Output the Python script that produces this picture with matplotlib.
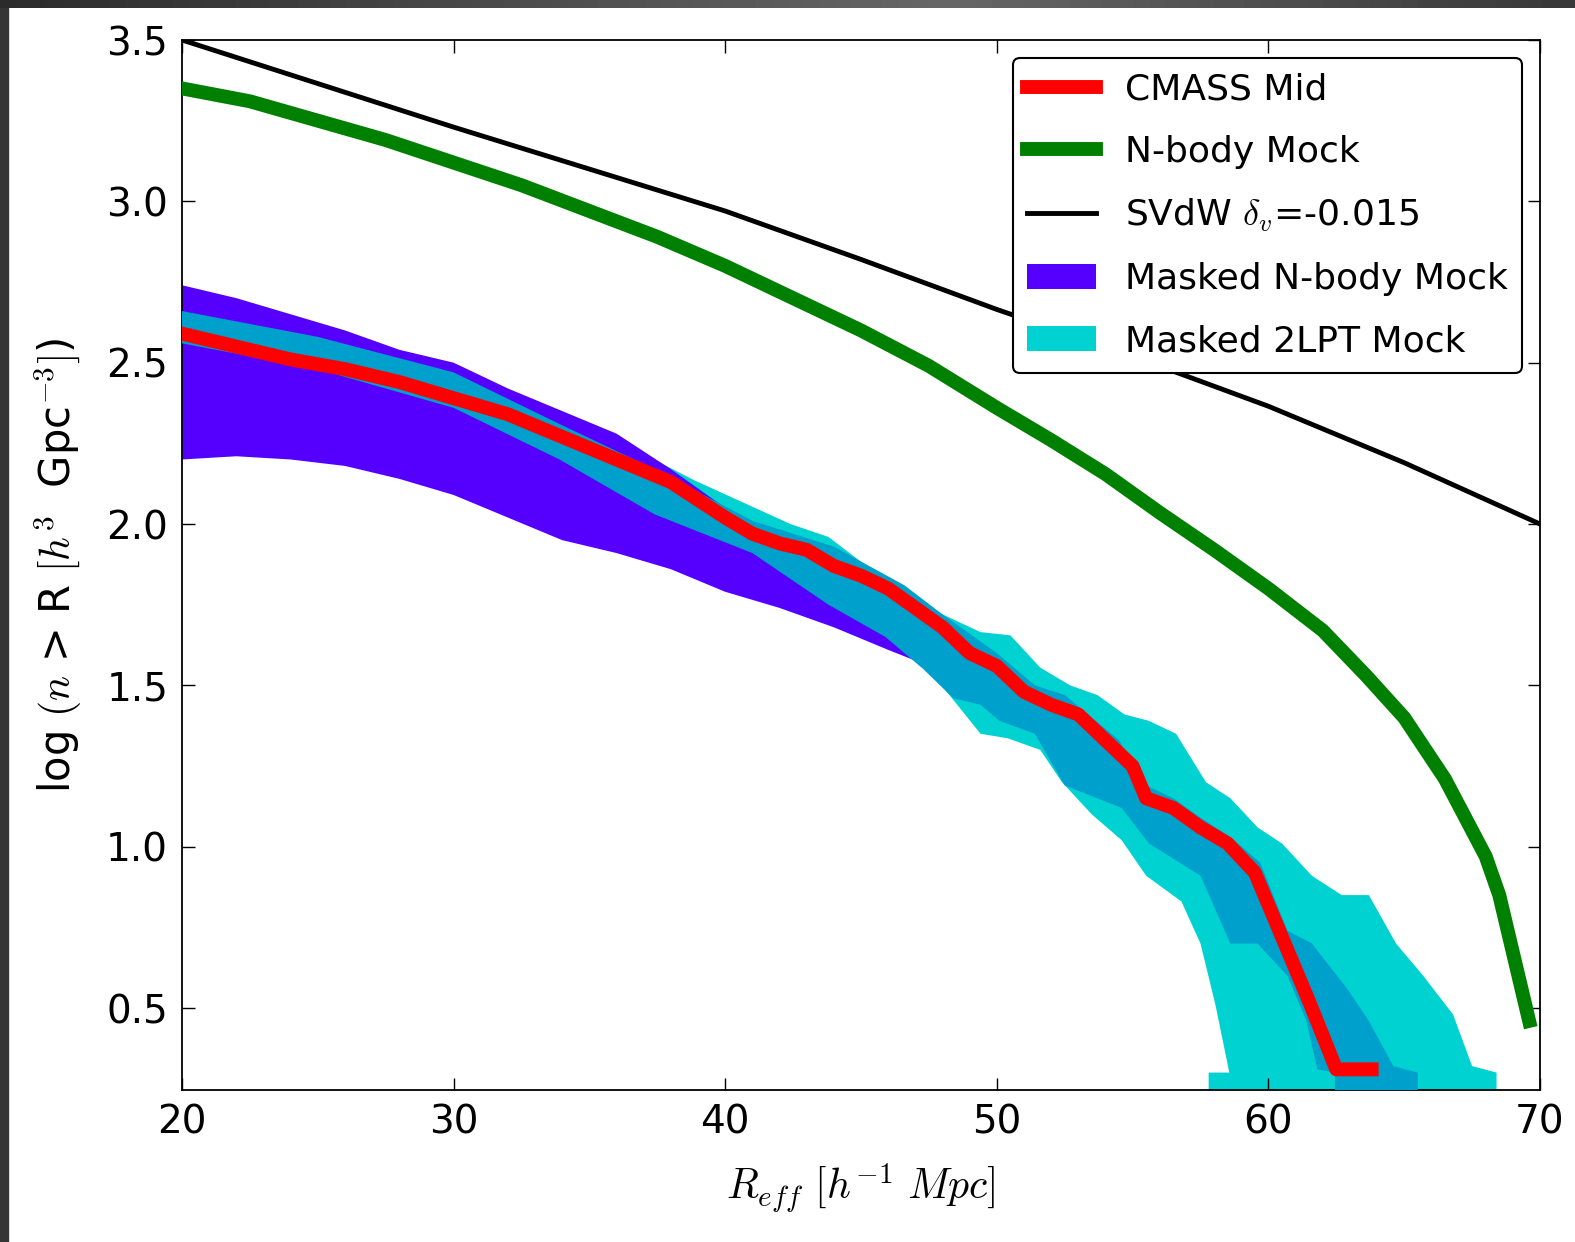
import numpy as np
import matplotlib
matplotlib.use("Agg")
import matplotlib.pyplot as plt
from matplotlib.lines import Line2D
from matplotlib.patches import Patch, Rectangle

plt.rcParams["font.family"] = ["DejaVu Sans"]
plt.rcParams["mathtext.fontset"] = "cm"

# cumulative void abundance curves
r_svdw = [20, 25, 30, 35, 40, 45, 50, 55, 60, 65, 70]
n_svdw = [3.50, 3.365, 3.23, 3.10, 2.97, 2.82, 2.665, 2.52, 2.365, 2.19, 2.00]

r_nbody = [20, 22.5, 25, 27.5, 30, 32.5, 35, 37.5, 40, 42.5, 45, 47.5, 50,
           50.5, 52, 54, 56, 58, 60, 62, 63.6, 65, 66.5, 68, 68.5, 69.6]
n_nbody = [3.35, 3.31, 3.25, 3.19, 3.12, 3.05, 2.97, 2.89, 2.80, 2.70, 2.60,
           2.49, 2.36, 2.335, 2.26, 2.155, 2.035, 1.92, 1.80, 1.67, 1.53,
           1.40, 1.21, 0.97, 0.85, 0.46]

r_cmass = [20, 22, 24, 26, 28, 30, 32, 34, 36, 38, 40, 41, 42, 43, 44, 45, 46,
           47, 48, 49, 50, 51, 52, 53, 54, 55, 55.5, 56.5, 57.5, 58.5, 59.5,
           60.5, 61.5, 62.5, 63.8]
n_cmass = [2.59, 2.55, 2.51, 2.48, 2.44, 2.39, 2.34, 2.27, 2.20, 2.13, 2.02,
           1.97, 1.94, 1.92, 1.87, 1.84, 1.80, 1.74, 1.68, 1.60, 1.56, 1.48,
           1.44, 1.41, 1.33, 1.25, 1.15, 1.12, 1.06, 1.01, 0.92, 0.72, 0.52,
           0.31, 0.31]

# masked N-body mock spread
r_nb_hi = [20, 22, 24, 26, 28, 30, 32, 34, 36, 38, 40, 42, 44, 46, 48]
n_nb_hi = [2.74, 2.70, 2.65, 2.60, 2.54, 2.50, 2.42, 2.35, 2.28, 2.17, 2.05,
           1.96, 1.88, 1.76, 1.62]
r_nb_lo = [20, 22, 24, 26, 28, 30, 32, 34, 36, 38, 40, 42, 44, 46, 47.5, 48]
n_nb_lo = [2.20, 2.21, 2.20, 2.18, 2.14, 2.09, 2.02, 1.95, 1.91, 1.86, 1.79,
           1.74, 1.68, 1.61, 1.56, 1.53]

# masked 2LPT mock, outer spread
r_lpt_hi = [20, 25, 30, 34, 36, 38.85, 42.4, 43.8, 45.2, 46.6, 48.0, 49.4,
            50.5, 51.6, 52.7, 53.7, 54.7, 55.6, 56.6, 57.7, 58.6, 59.6, 60.5,
            61.6, 62.7, 63.7, 64.7, 65.7, 66.8, 67.5, 68.4, 68.4]
n_lpt_hi = [2.68, 2.60, 2.49, 2.34, 2.26, 2.136, 2.00, 1.96, 1.87, 1.80,
            1.72, 1.665, 1.655, 1.555, 1.50, 1.47, 1.41, 1.39, 1.35, 1.20,
            1.15, 1.06, 1.01, 0.91, 0.85, 0.85, 0.70, 0.60, 0.48, 0.32, 0.30,
            0.0]
r_lpt_lo = [20, 25, 30, 34, 38, 42, 45, 47, 48.4, 49.4, 50.4, 51.6, 52.4,
            53.5, 54.6, 55.5, 56.8, 57.5, 58.05, 58.56, 57.8, 57.8]
n_lpt_lo = [2.30, 2.24, 2.14, 2.05, 1.94, 1.82, 1.70, 1.60, 1.455, 1.35,
            1.336, 1.30, 1.20, 1.10, 1.02, 0.91, 0.83, 0.70, 0.51, 0.30, 0.30,
            0.0]

# masked 2LPT mock, inner spread
r_lpt_in_hi = [20, 25, 30, 33.9, 37.4, 41, 44, 46.6, 48, 50, 51.4, 52.5,
               54.5, 55.5, 56.5, 57.5, 58.6, 59.7, 60.7, 61.6, 62.9, 63.7,
               64.6, 65.5, 65.5]
n_lpt_in_hi = [2.66, 2.58, 2.47, 2.31, 2.17, 2.01, 1.93, 1.81, 1.72, 1.60,
               1.50, 1.47, 1.33, 1.19, 1.15, 1.09, 1.03, 0.95, 0.74, 0.70,
               0.56, 0.46, 0.32, 0.30, 0.0]
r_lpt_in_lo = [20, 25, 30, 33.9, 37.4, 41, 43.8, 45.9, 47.3, 48.4, 49.4,
               50.1, 51.4, 52.5, 54.6, 55.6, 57.5, 58.6, 59.6, 60.7, 61.4,
               61.8, 62.45, 62.45]
n_lpt_in_lo = [2.56, 2.48, 2.36, 2.20, 2.03, 1.91, 1.75, 1.65, 1.55, 1.46,
               1.44, 1.39, 1.35, 1.19, 1.12, 1.01, 0.91, 0.70, 0.70, 0.60,
               0.46, 0.31, 0.30, 0.0]

c_red = "#ff0000"
c_green = "#008000"
c_purple = "#5500ff"
c_cyan = "#00d2d2"
c_blue = "#00a0cc"


def band(ax, r_hi, n_hi, r_lo, n_lo, color, z):
    xs = list(r_hi) + list(r_lo)[::-1]
    ys = list(n_hi) + list(n_lo)[::-1]
    ax.fill(xs, ys, color=color, lw=0, zorder=z)


fig = plt.figure(figsize=(15.75, 12.42), dpi=100)
ax = fig.add_axes([182 / 1575, 1 - 1090 / 1242, 1358 / 1575, 1050 / 1242])

band(ax, r_lpt_hi, n_lpt_hi, r_lpt_lo, n_lpt_lo, c_cyan, 1)
band(ax, r_nb_hi, n_nb_hi, r_nb_lo, n_nb_lo, c_purple, 2)
band(ax, r_lpt_in_hi, n_lpt_in_hi, r_lpt_in_lo, n_lpt_in_lo, c_blue, 3)

ax.plot(r_nbody, n_nbody, color=c_green, lw=10, zorder=4)
ax.plot(r_svdw, n_svdw, color="black", lw=3.5, zorder=4)
ax.plot(r_cmass, n_cmass, color=c_red, lw=10, zorder=5)

ax.set_xlim(20, 70)
ax.set_ylim(0.246, 3.5)
ax.set_xticks([20, 30, 40, 50, 60, 70])
ax.set_yticks([0.5, 1.0, 1.5, 2.0, 2.5, 3.0, 3.5])
ax.set_yticklabels(["0.5", "1.0", "1.5", "2.0", "2.5", "3.0", "3.5"])
ax.tick_params(direction="in", top=True, right=True, length=9, width=1,
               labelsize=28, pad=10)
for sp in ax.spines.values():
    sp.set_linewidth(1.3)

ax.set_xlabel(r"$R_{eff}\ [h^{-1}\ Mpc]$", fontsize=30, labelpad=14)
ax.set_ylabel(r"log $(n$ > R $[h^3$  Gpc$^{-3}]$)", fontsize=30, labelpad=16)

handles = [
    Line2D([], [], color=c_red, lw=10),
    Line2D([], [], color=c_green, lw=10),
    Line2D([], [], color="black", lw=3.5),
    Patch(color=c_purple, lw=0),
    Patch(color=c_cyan, lw=0),
]
labels = ["CMASS Mid", "N-body Mock", r"SVdW $\delta_v$=-0.015",
          "Masked N-body Mock", "Masked 2LPT Mock"]
leg = ax.legend(handles, labels, loc="upper right", fontsize=26,
                fancybox=True, framealpha=1, borderaxespad=0.5,
                labelspacing=0.78, handlelength=1.9)
leg.get_frame().set_edgecolor("black")
leg.get_frame().set_linewidth(1.5)
leg.set_zorder(10)

# dark window edge along the top and left
fig.add_artist(Rectangle((0, 0), 8 / 1575, 1, transform=fig.transFigure,
                         color="#353535", zorder=20))
top = fig.add_axes([0, 1 - 8 / 1242, 1, 8 / 1242], zorder=21)
shade = np.concatenate([np.linspace(0.17, 0.40, 60), np.linspace(0.40, 0.22, 40)])
top.imshow(shade[None, :], cmap="gray", vmin=0, vmax=1, aspect="auto")
top.set_axis_off()

fig.savefig("out.png", dpi=100)
